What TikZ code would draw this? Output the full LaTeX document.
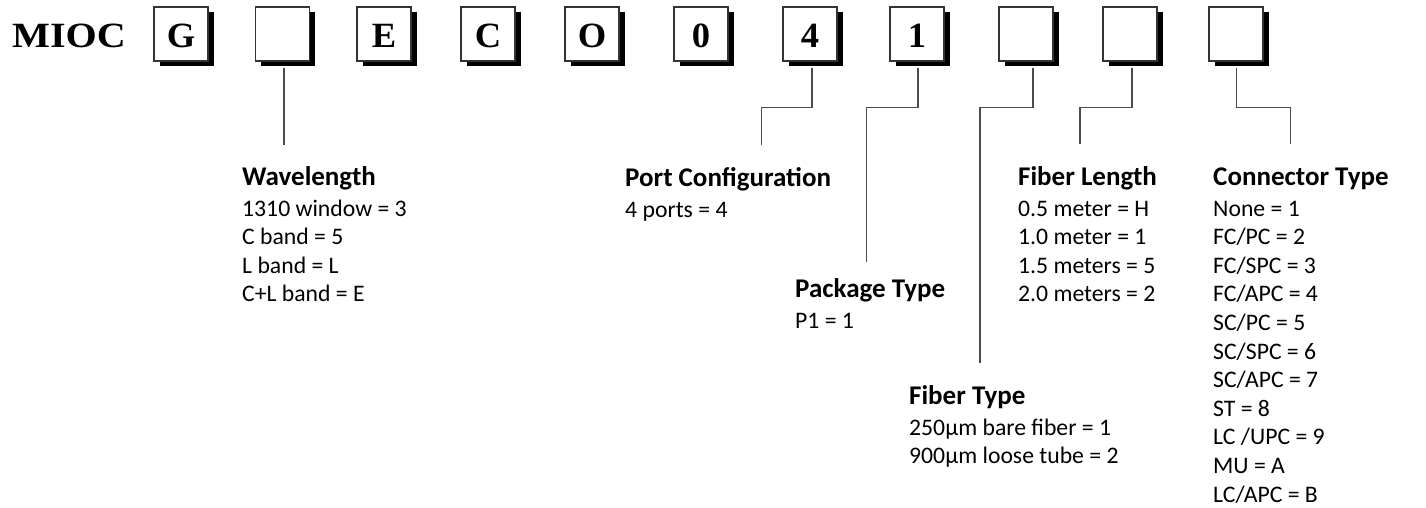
\documentclass[tikz,border=0pt]{standalone}
\usepackage{fontspec}
\usepackage{graphicx}
\setsansfont{Carlito}
\newfontfamily\codefont{Liberation Serif}
\usetikzlibrary{shadows}
\newcommand\infoblock[2]{\begin{tabular}[t]{@{}l@{}}{\fontsize{27}{28.6}\selectfont\bfseries #1}\\[2.4pt] #2\end{tabular}}
\newcommand\wideletter[1]{\scalebox{1.03}[1]{#1}}
\begin{document}
\begin{tikzpicture}[x=1pt,y=-1pt,
  codebox/.style={draw=black!80, line width=1.2pt, fill=white,
    minimum width=54pt, minimum height=54pt, inner sep=0pt,
    text height=28pt, text depth=0pt,
    font=\codefont\fontsize{35.5}{35.5}\selectfont\bfseries,
    drop shadow={shadow xshift=5.5pt, shadow yshift=-5.5pt, opacity=1, fill=black}},
  lead/.style={draw=black!70, line width=1.3pt},
  info/.style={anchor=base west, inner sep=0pt, font=\sffamily\fontsize{23.7}{28.6}\selectfont}]
\useasboundingbox (0,0) rectangle (1426,508);
\node[anchor=base west, inner sep=0pt, font=\codefont\fontsize{35.5}{35.5}\selectfont\bfseries] (mioc) at (12,48) {\scalebox{1.13}[1]{MIOC}};
\node[codebox] (b1) at (181,34) {\wideletter{G}};
\node[codebox] (b2) at (282.5,34) {};
\node[codebox] (b3) at (384,34) {\wideletter{E}};
\node[codebox] (b4) at (488,34) {\wideletter{C}};
\node[codebox] (b5) at (592,34) {\wideletter{O}};
\node[codebox] (b6) at (701,34) {\wideletter{0}};
\node[codebox] (b7) at (810,34) {\wideletter{4}};
\node[codebox] (b8) at (917,34) {\wideletter{1}};
\node[codebox] (b9) at (1026,34) {};
\node[codebox] (b10) at (1130,34) {};
\node[codebox] (b11) at (1236,34) {};

\node[info] (wl) at (242,185) {\infoblock{Wavelength}{1310 window = 3\\ C band = 5\\ L band = L\\ C+L band = E}};
\node[info] (pc) at (625,186) {\infoblock{Port Configuration}{4 ports = 4}};
\node[info] (pt) at (795,297) {\infoblock{Package Type}{P1 = 1}};
\node[info] (ft) at (909,404) {\infoblock{Fiber Type}{250µm bare fiber = 1\\ 900µm loose tube = 2}};
\node[info] (fl) at (1018,185) {\infoblock{Fiber Length}{0.5 meter = H\\ 1.0 meter = 1\\ 1.5 meters = 5\\ 2.0 meters = 2}};
\node[info] (ct) at (1213,185) {\infoblock{Connector Type}{None = 1\\ FC/PC = 2\\ FC/SPC = 3\\ FC/APC = 4\\ SC/PC = 5\\ SC/SPC = 6\\ SC/APC = 7\\ ST = 8\\ LC /UPC = 9\\ MU = A\\ LC/APC = B}};

\coordinate (e2) at (284,145);
\coordinate (e7) at (761.7,145);
\coordinate (e8) at (866.7,262);
\coordinate (e9) at (980,363);
\coordinate (e10) at (1080,144);
\coordinate (e11) at (1290.7,144);
\draw[lead] ([xshift=1.5pt,yshift=-6pt]b2.south) -- (e2);
\draw[lead] ([xshift=2pt,yshift=-6pt]b7.south) -- ++(0,40) -| (e7);
\draw[lead] ([xshift=1pt,yshift=-6pt]b8.south) -- ++(0,40) -| (e8);
\draw[lead] ([xshift=7pt,yshift=-6pt]b9.south) -- ++(0,40) -| (e9);
\draw[lead] ([xshift=2pt,yshift=-6pt]b10.south) -- ++(0,40) -| (e10);
\draw[lead] ([xshift=0.7pt,yshift=-6pt]b11.south) -- ++(0,40) -| (e11);
\end{tikzpicture}
\end{document}
